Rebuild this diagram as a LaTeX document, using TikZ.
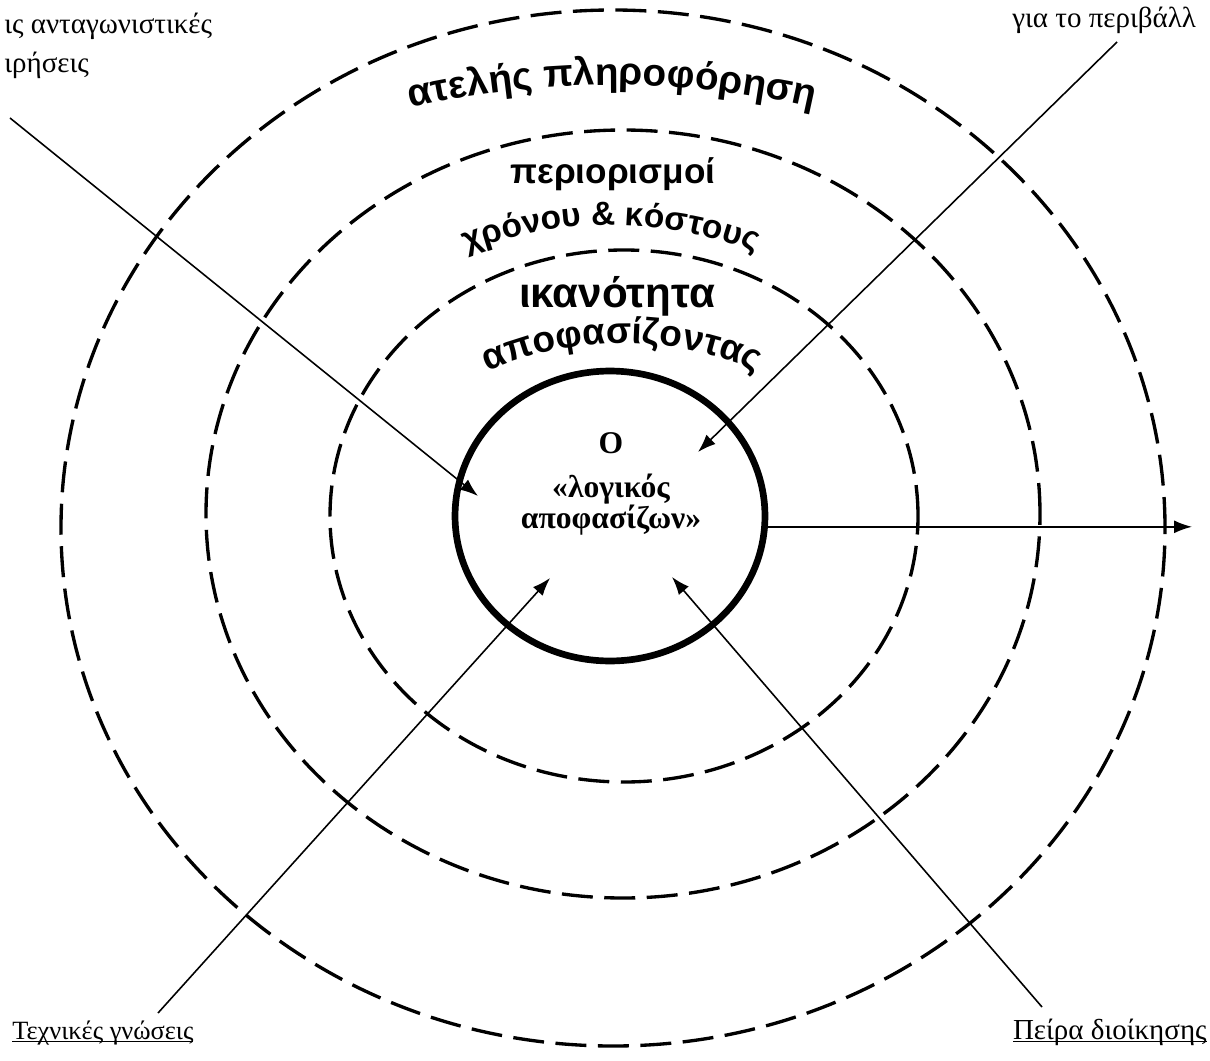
\documentclass[tikz,border=0pt]{standalone}
\usepackage{fontspec}
\setmainfont{Liberation Serif}
\newfontfamily\ringfont{Liberation Sans}
\usepackage{tikz}
\usetikzlibrary{
    shapes.geometric,
    arrows.meta,
    decorations.text
}
\definecolor{ink}{RGB}{0, 0, 0}
\newcommand{\undertext}[1]{\setbox0\hbox{#1}\rlap{\vrule width\wd0 height -1.3pt depth 1.9pt}\box0}
\tikzset{
    ring/.style={draw=ink, line width=1.9pt, dash pattern=on 0.62cm off 0.23cm},
    core/.style={
        ellipse, draw=ink, line width=3.8pt, minimum width=6.2cm,
        minimum height=5.8cm, inner sep=0pt, outer sep=0pt
    },
    agent/.style={
        align=center, inner sep=0pt, font=\bfseries\fontsize{18}{17.6}\selectfont
    },
    side/.style={
        align=left, inner sep=0pt, font=\fontsize{16.5}{22}\selectfont
    },
    ringtext/.style={inner sep=0pt, font=\ringfont\bfseries\fontsize{20}{22}\selectfont},
    arctext/.style={
        decorate, decoration={text along path, text align=center, text={#1}}
    },
    flow/.style={-{Latex[length=3.6mm, width=2.6mm]}, line width=0.9pt, ink},
}

\begin{document}
\begin{tikzpicture}[x=0.02cm, y=0.02cm]
    \useasboundingbox (0,0) rectangle (1210,-1061);
    \clip (0,0) rectangle (1210,-1061);

    \draw [ring] (613,-528) ellipse [x radius=552, y radius=518];
    \draw [ring] (623,-514) ellipse [x radius=417, y radius=384];
    \draw [ring] (624,-516) ellipse [x radius=294, y radius=266];
    \node [core] (core) at (610,-516) {};

    \node [agent, anchor=base] (agent) at (611,-528) {Ο\\[7pt]«λογικός\\αποφασίζων»};

    % ring labels
    \path [arctext={|\ringfont\bfseries\fontsize{22}{24}\selectfont|ατελής πληροφόρηση}]
        (612,-985) ++(108:900) arc [start angle=108, end angle=72, radius=900];
    \node [ringtext, anchor=base] (limits) at (613,-183) {περιορισμοί};
    \path [arctext={|\ringfont\bfseries\fontsize{19}{22}\selectfont|χρόνου {\&} κόστους}]
        (611,-625) ++(120:400) arc [start angle=120, end angle=60, radius=400];
    \node [ringtext, anchor=base, font=\ringfont\bfseries\fontsize{24}{26}\selectfont] (skill) at (617,-307) {ικανότητα};
    \path [arctext={|\ringfont\bfseries\fontsize{21}{24}\selectfont|αποφασίζοντας}]
        (622,-673) ++(125:330) arc [start angle=125, end angle=55, radius=330];

    % outer labels
    \node [side, anchor=base west] (rivals) at (4,-72) {ις ανταγωνιστικές\\ιρήσεις};
    \node [side, anchor=base west] (envinfo) at (1012,-28) {για το περιβάλλ};
    \node [side, anchor=base west, font=\fontsize{15}{22}\selectfont] (tech) at (12,-1039) {\undertext{Τεχνικές γνώσεις}};
    \node [side, anchor=base east] (exper) at (1207,-1039) {\undertext{Πείρα διοίκησης}};

    \coordinate (rivalsrc) at (10,-118);
    \coordinate (rivaltip) at (478,-496);
    \coordinate (envsrc) at (1117,-42);
    \coordinate (envtip) at (698,-452);
    \coordinate (outtip) at (1192,-526);
    \coordinate (techsrc) at (158,-1013);
    \coordinate (techtip) at (550,-578);
    \coordinate (expsrc) at (1042,-1007);
    \coordinate (exptip) at (672,-577);

    \draw [flow] (rivalsrc) -- (rivaltip);
    \draw [flow] (envsrc) -- (envtip);
    \draw [flow] (core.-4) -- (core.-4 -| outtip);
    \draw [flow] (techsrc) -- (techtip);
    \draw [flow] (expsrc) -- (exptip);

\end{tikzpicture}
\end{document}
